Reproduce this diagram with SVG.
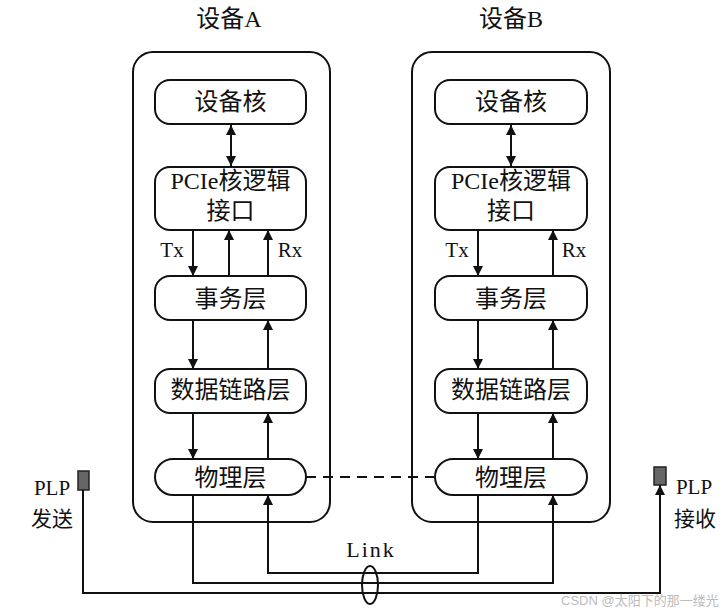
<svg xmlns="http://www.w3.org/2000/svg" width="726" height="613" viewBox="0 0 726 613">
<style>
text{font-family:"Liberation Serif","Noto Sans CJK SC",serif;fill:#111;text-anchor:middle}
.t{font-size:24px}
.s{font-size:21px}
.l{font-size:22px;letter-spacing:2px}
.box{fill:#fff;stroke:#111;stroke-width:2}
.ln{fill:none;stroke:#111;stroke-width:2}
.ar{fill:none;stroke:#111;stroke-width:2;marker-end:url(#ah)}
.wm{font-family:"Liberation Sans","Noto Sans CJK SC",sans-serif;font-size:13px;fill:#bbb;text-anchor:start}
</style>
<defs>
<marker id="ah" viewBox="0 0 10 10" refX="10" refY="5" markerWidth="5.5" markerHeight="5" orient="auto" markerUnits="strokeWidth">
<path d="M0,0 L10,5 L0,10 z" fill="#111"/>
</marker>
<marker id="ahs" viewBox="0 0 10 10" refX="10" refY="5" markerWidth="5.5" markerHeight="5" orient="auto-start-reverse" markerUnits="strokeWidth">
<path d="M0,0 L10,5 L0,10 z" fill="#111"/>
</marker>
</defs>
<rect width="726" height="613" fill="#fff"/>

<g id="deviceA">
<text class="t" x="229" y="27">设备A</text>
<rect class="box" x="133" y="52" width="197" height="470" rx="20"/>
</g>
<g id="deviceB">
<text class="t" x="511" y="27">设备B</text>
<rect class="box" x="412" y="52" width="198" height="470" rx="20"/>
</g>

<g id="A-core"><rect class="box" x="155" y="80" width="151" height="44" rx="15"/><text class="t" x="230.5" y="110">设备核</text></g>
<g id="A-pcie"><rect class="box" x="155" y="167" width="151" height="63" rx="15"/><text class="t" x="230.5" y="189">PCIe核逻辑</text><text class="t" x="230.5" y="219">接口</text></g>
<g id="A-trans"><rect class="box" x="155" y="276" width="151" height="44" rx="15"/><text class="t" x="230.5" y="307">事务层</text></g>
<g id="A-dll"><rect class="box" x="155" y="369" width="151" height="44" rx="15"/><text class="t" x="230.5" y="398">数据链路层</text></g>
<g id="A-phy"><rect class="box" x="155" y="459" width="151" height="36" rx="18"/><text class="t" x="230.5" y="486">物理层</text></g>

<g id="B-core"><rect class="box" x="435" y="80" width="152" height="44" rx="15"/><text class="t" x="511" y="110">设备核</text></g>
<g id="B-pcie"><rect class="box" x="435" y="167" width="152" height="63" rx="15"/><text class="t" x="511" y="189">PCIe核逻辑</text><text class="t" x="511" y="219">接口</text></g>
<g id="B-trans"><rect class="box" x="435" y="276" width="152" height="44" rx="15"/><text class="t" x="511" y="307">事务层</text></g>
<g id="B-dll"><rect class="box" x="435" y="369" width="152" height="44" rx="15"/><text class="t" x="511" y="398">数据链路层</text></g>
<g id="B-phy"><rect class="box" x="435" y="459" width="152" height="36" rx="18"/><text class="t" x="511" y="486">物理层</text></g>

<g id="plp-send"><rect x="78" y="471" width="11" height="19" fill="#666" stroke="#222" stroke-width="1.5"/><text class="s" x="52" y="495">PLP</text><text class="s" x="52" y="526">发送</text></g>
<g id="plp-recv"><rect x="654" y="467" width="12" height="18" fill="#666" stroke="#222" stroke-width="1.5"/><text class="s" x="694" y="494">PLP</text><text class="s" x="695" y="526">接收</text></g>

<g id="connectors">
<line class="ln" x1="231" y1="125" x2="231" y2="166" marker-start="url(#ahs)" marker-end="url(#ah)"/>
<line class="ln" x1="511" y1="125" x2="511" y2="166" marker-start="url(#ahs)" marker-end="url(#ah)"/>
<line class="ar" x1="193" y1="230" x2="193" y2="276"/>
<line class="ar" x1="229" y1="276" x2="229" y2="230"/>
<line class="ar" x1="268" y1="276" x2="268" y2="230"/>
<text class="s" x="172" y="257">Tx</text>
<text class="s" x="290" y="257">Rx</text>
<line class="ar" x1="478" y1="230" x2="478" y2="276"/>
<line class="ar" x1="553" y1="276" x2="553" y2="230"/>
<text class="s" x="457" y="257">Tx</text>
<text class="s" x="574" y="257">Rx</text>
<line class="ar" x1="193" y1="320" x2="193" y2="369"/>
<line class="ar" x1="268" y1="369" x2="268" y2="320"/>
<line class="ar" x1="478" y1="320" x2="478" y2="369"/>
<line class="ar" x1="553" y1="369" x2="553" y2="320"/>
<line class="ar" x1="193" y1="413" x2="193" y2="459"/>
<line class="ar" x1="268" y1="459" x2="268" y2="413"/>
<line class="ar" x1="478" y1="413" x2="478" y2="459"/>
<line class="ar" x1="553" y1="459" x2="553" y2="413"/>
<line class="ln" x1="306" y1="477" x2="435" y2="477" stroke-dasharray="10,7"/>
<polyline class="ar" points="193,495 193,583 553,583 553,495"/>
<polyline class="ar" points="478,495 478,573 268,573 268,495"/>
<polyline class="ar" points="83,490 83,593 660,593 660,485"/>
<ellipse cx="370" cy="585" rx="8" ry="19" fill="none" stroke="#111" stroke-width="2"/>
<text class="l" x="371" y="557">Link</text>
</g>
<text class="wm" x="561" y="605">CSDN @太阳下的那一缕光</text>
</svg>
